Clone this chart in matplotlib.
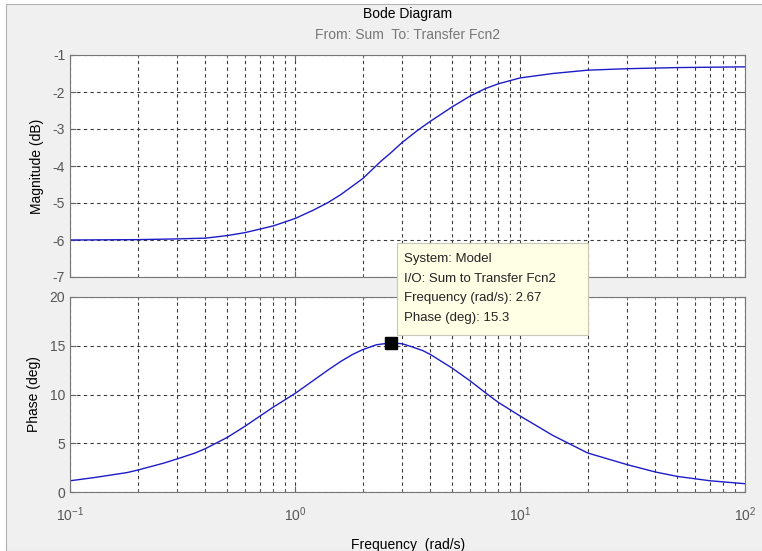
import matplotlib
matplotlib.use("Agg")
import matplotlib.pyplot as plt
from matplotlib.patches import Rectangle
from matplotlib.ticker import LogLocator, NullFormatter, FixedLocator

plt.rcParams['font.family'] = ['Liberation Sans', 'DejaVu Sans']
plt.rcParams['mathtext.default'] = 'regular'
plt.rcParams['axes.unicode_minus'] = False

freq_mag = [0.1, 0.2, 0.3, 0.4, 0.5, 0.6, 0.8, 1.0, 1.2, 1.4, 1.6, 2.0, 2.2,
            2.4, 2.67, 3.0, 3.5, 4.0, 5.0, 6.0, 7.0, 8.0, 10, 14, 20, 30, 50, 100]
mag_db = [-6.00, -5.99, -5.97, -5.95, -5.88, -5.80, -5.62, -5.42, -5.20, -4.99,
          -4.77, -4.34, -4.10, -3.88, -3.64, -3.36, -3.04, -2.79, -2.40, -2.11,
          -1.91, -1.78, -1.62, -1.50, -1.41, -1.37, -1.34, -1.32]

freq_fase = [0.1, 0.13, 0.18, 0.2, 0.26, 0.3, 0.36, 0.4, 0.5, 0.6, 0.7, 0.8,
             1.0, 1.2, 1.4, 1.6, 1.8, 2.0, 2.3, 2.67, 3.0, 3.3, 3.7, 4.0, 5.0,
             6.0, 7.0, 8.0, 10, 14, 20, 30, 40, 50, 70, 100]
fase_deg = [1.15, 1.5, 2.0, 2.25, 2.95, 3.4, 4.0, 4.45, 5.6, 6.75, 7.8, 8.7,
            10.1, 11.4, 12.5, 13.4, 14.1, 14.6, 15.1, 15.3, 15.2, 14.9, 14.5,
            14.1, 12.7, 11.4, 10.2, 9.2, 7.8, 5.8, 4.0, 2.8, 2.05, 1.6, 1.15, 0.85]

punto_freq = 2.67
punto_fase = 15.3

ticks_mag = [-7, -6, -5, -4, -3, -2, -1]
ticks_fase = [0, 5, 10, 15, 20]
ticks_x = [0.1, 1, 10, 100]
etiquetas_x = ['$10^{-1}$', '$10^{0}$', '$10^{1}$', '$10^{2}$']

azul = '#1c1cc8'
gris_texto = '#555555'

fig = plt.figure(figsize=(7.62, 5.51), dpi=100, facecolor='white')
fig.patches.append(Rectangle((6 / 762, 0), 1, 1 - 4 / 551, transform=fig.transFigure,
                             facecolor='#f0f0f0', edgecolor='#b0b0b0', lw=0.8, zorder=-10))

ax1 = fig.add_axes([70 / 762, 1 - 277 / 551, 675 / 762, 222 / 551])
ax2 = fig.add_axes([70 / 762, 1 - 492 / 551, 675 / 762, 195 / 551])

for ax in (ax1, ax2):
    ax.set_xscale('log')
    ax.set_xlim(0.1, 100)
    ax.xaxis.set_major_locator(FixedLocator(ticks_x))
    ax.xaxis.set_minor_locator(LogLocator(base=10, subs=range(2, 10)))
    ax.xaxis.set_minor_formatter(NullFormatter())
    ax.grid(True, which='both', axis='x', color='#3a3a3a', ls=(0, (3, 3)), lw=0.8)
    ax.grid(True, which='major', axis='y', color='#3a3a3a', ls=(0, (3, 3)), lw=0.8)
    ax.tick_params(which='both', direction='in', colors='#666666', labelcolor=gris_texto,
                   labelsize=10, top=True, right=True)
    ax.tick_params(which='major', length=4)
    ax.tick_params(which='minor', length=2)
    for s in ax.spines.values():
        s.set_color('#777777')
        s.set_linewidth(0.8)

ax1.plot(freq_mag, mag_db, color=azul, lw=1)
ax1.set_ylim(-7, -1)
ax1.set_yticks(ticks_mag)
ax1.set_xticklabels([])
ax1.set_ylabel('Magnitude (dB)', fontsize=10, color='black', labelpad=6)

ax2.plot(freq_fase, fase_deg, color=azul, lw=1)
ax2.plot([punto_freq], [punto_fase], 's', color='black', ms=8, zorder=5)
ax2.set_ylim(0, 20)
ax2.set_yticks(ticks_fase)
ax2.set_xticklabels(etiquetas_x)
ax2.tick_params(axis='x', pad=10)
ax2.set_ylabel('Phase (deg)', fontsize=10, color='black', labelpad=6)

fig.text(408 / 762, 1 - 14 / 551, 'Bode Diagram', ha='center', va='center', fontsize=10)
fig.text(408 / 762, 1 - 35 / 551, 'From: Sum  To: Transfer Fcn2', ha='center', va='center',
         fontsize=10, color='#777777')
fig.text(408 / 762, 1 - 545 / 551, 'Frequency  (rad/s)', ha='center', va='center', fontsize=10)

# cuadro del cursor de datos
fig.patches.append(Rectangle((397 / 762, 1 - 335 / 551), 191 / 762, 92 / 551,
                             transform=fig.transFigure, facecolor='#ffffe6',
                             edgecolor='#c8c8b4', lw=0.8, zorder=20))
lineas = ['System: Model', 'I/O: Sum to Transfer Fcn2',
          'Frequency (rad/s): %.2f' % punto_freq, 'Phase (deg): %.1f' % punto_fase]
for i, t in enumerate(lineas):
    fig.text(404 / 762, 1 - (259 + 19.5 * i) / 551, t, ha='left', va='center',
             fontsize=9.5, color='#222222', zorder=21)

fig.savefig('out.png', dpi=100, facecolor=fig.get_facecolor())
